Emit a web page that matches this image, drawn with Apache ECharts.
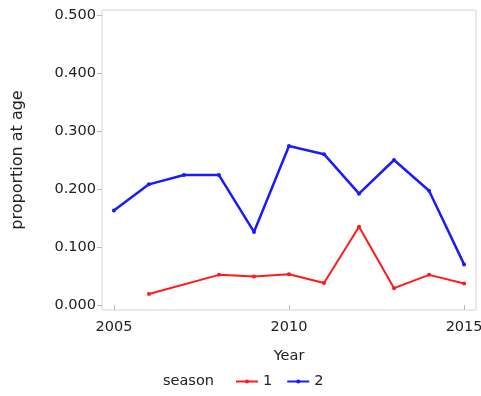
<!DOCTYPE html>
<html>
<head>
<meta charset="utf-8">
<script src="https://cdn.jsdelivr.net/npm/echarts@6/dist/echarts.min.js"></script>
<style>
  html, body { margin: 0; padding: 0; background: #fff; }
  #chart { width: 481px; height: 396px; }
</style>
</head>
<body>
<div id="chart"></div>
<script>
// data
const years = [2005, 2006, 2007, 2008, 2009, 2010, 2011, 2012, 2013, 2014, 2015]
const season1 = [null, 0.019, null, 0.052, 0.049, 0.053, 0.038, 0.135, 0.029, 0.052, 0.037]
const season2 = [0.163, 0.208, 0.224, 0.224, 0.126, 0.274, 0.260, 0.192, 0.250, 0.197, 0.070]
const xTicks = [2005, 2010, 2015]
const yTicks = [0, 0.1, 0.2, 0.3, 0.4, 0.5]

const font = 'DejaVu Sans, sans-serif'
const txt = '#222'
const chart = echarts.init(document.getElementById('chart'))

const pairs = vals => years.map((y, i) => [y, vals[i]])

chart.setOption({
    animation: false,
    textStyle: { fontFamily: font },
    grid: {
        left: 102, top: 10, right: 5, bottom: 86,
        outerBoundsMode: 'none',
        show: true, borderColor: '#d4d4d4', borderWidth: 1
    },
    xAxis: {
        type: 'value',
        min: 2004.66, max: 2015.34,
        name: 'Year', nameLocation: 'middle', nameGap: 39,
        nameTextStyle: { fontSize: 14.5, color: txt, fontFamily: font },
        axisLine: { show: false },
        splitLine: { show: false },
        axisTick: { show: true, length: 5, lineStyle: { color: '#bbb' }, customValues: xTicks },
        axisLabel: { fontSize: 14.5, color: txt, margin: 10, customValues: xTicks, formatter: v => String(v) }
    },
    yAxis: {
        type: 'value',
        min: -0.0086, max: 0.5086,
        name: 'proportion at age', nameLocation: 'middle', nameGap: 76,
        nameTextStyle: { fontSize: 16, color: txt, fontFamily: font },
        axisLine: { show: false },
        splitLine: { show: false },
        axisTick: { show: true, length: 5, lineStyle: { color: '#bbb' }, customValues: yTicks },
        axisLabel: { fontSize: 14.5, color: txt, margin: 6, customValues: yTicks, formatter: v => v.toFixed(3) }
    },
    legend: {
        left: 230, top: 369,
        itemWidth: 22, itemHeight: 5, itemGap: 14,
        textStyle: { fontSize: 14.5, color: txt, fontFamily: font },
        data: ['1', '2']
    },
    graphic: [{
        type: 'text', left: 163, top: 374,
        style: { text: 'season', fontSize: 14.5, fill: txt, fontFamily: font }
    }],
    series: [
        {
            name: '1', type: 'line', data: pairs(season1), connectNulls: true,
            symbol: 'circle', symbolSize: 4,
            lineStyle: { color: '#ff1a1a', width: 2 },
            itemStyle: { color: '#ff1a1a' }
        },
        {
            name: '2', type: 'line', data: pairs(season2),
            symbol: 'circle', symbolSize: 4,
            lineStyle: { color: '#1a1aff', width: 2.5 },
            itemStyle: { color: '#1a1aff' }
        }
    ]
})
</script>
</body>
</html>
